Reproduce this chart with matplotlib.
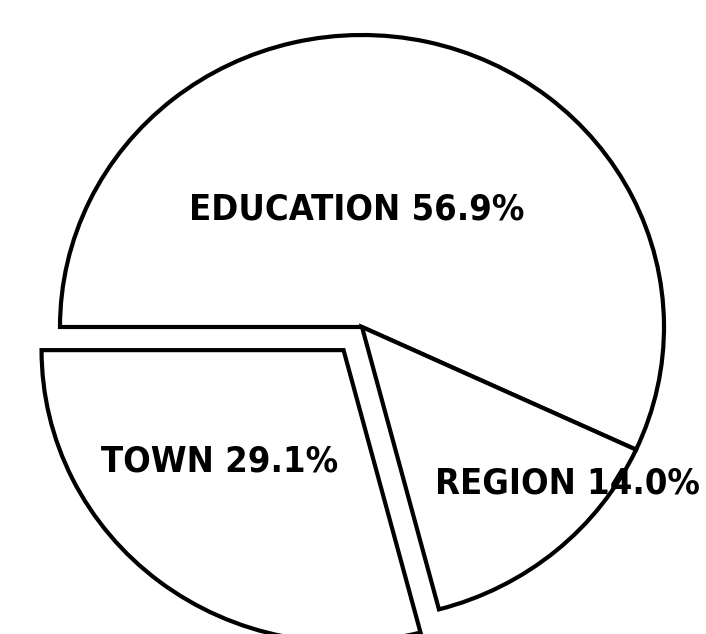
import matplotlib
matplotlib.use("Agg")
import matplotlib.pyplot as plt

labels = ["EDUCATION", "REGION", "TOWN"]
shares = [56.9, 14.0, 29.1]
explode = [0.0, 0.0, 0.10]

W, H = 706, 634
cx, cy = 362, 327      # pixel position of the pie centre
Rx, Ry = 302, 292      # pixels per unit radius

fig = plt.figure(figsize=(W / 100, H / 100), dpi=100)
ax = fig.add_axes([0, 0, 1, 1])
ax.pie(shares, explode=explode, startangle=180, counterclock=False,
       colors=["white"] * 3,
       wedgeprops=dict(edgecolor="black", linewidth=3.0, joinstyle="miter"))
ax.set_aspect("auto")
ax.set_xlim(-cx / Rx, (W - cx) / Rx)
ax.set_ylim(-(H - cy) / Ry, cy / Ry)
ax.axis("off")

def px(x, y):
    return (x - cx) / Rx, (cy - y) / Ry

label_px = [(357, 209), (567, 483), (220, 461)]
for lab, val, (x, y) in zip(labels, shares, label_px):
    ax.text(*px(x, y), f"{lab} {val:.1f}%", ha="center", va="center",
            fontsize=26, fontweight="bold", fontstretch="condensed",
            family="DejaVu Sans")

fig.savefig("out.png", dpi=100, facecolor="white")
